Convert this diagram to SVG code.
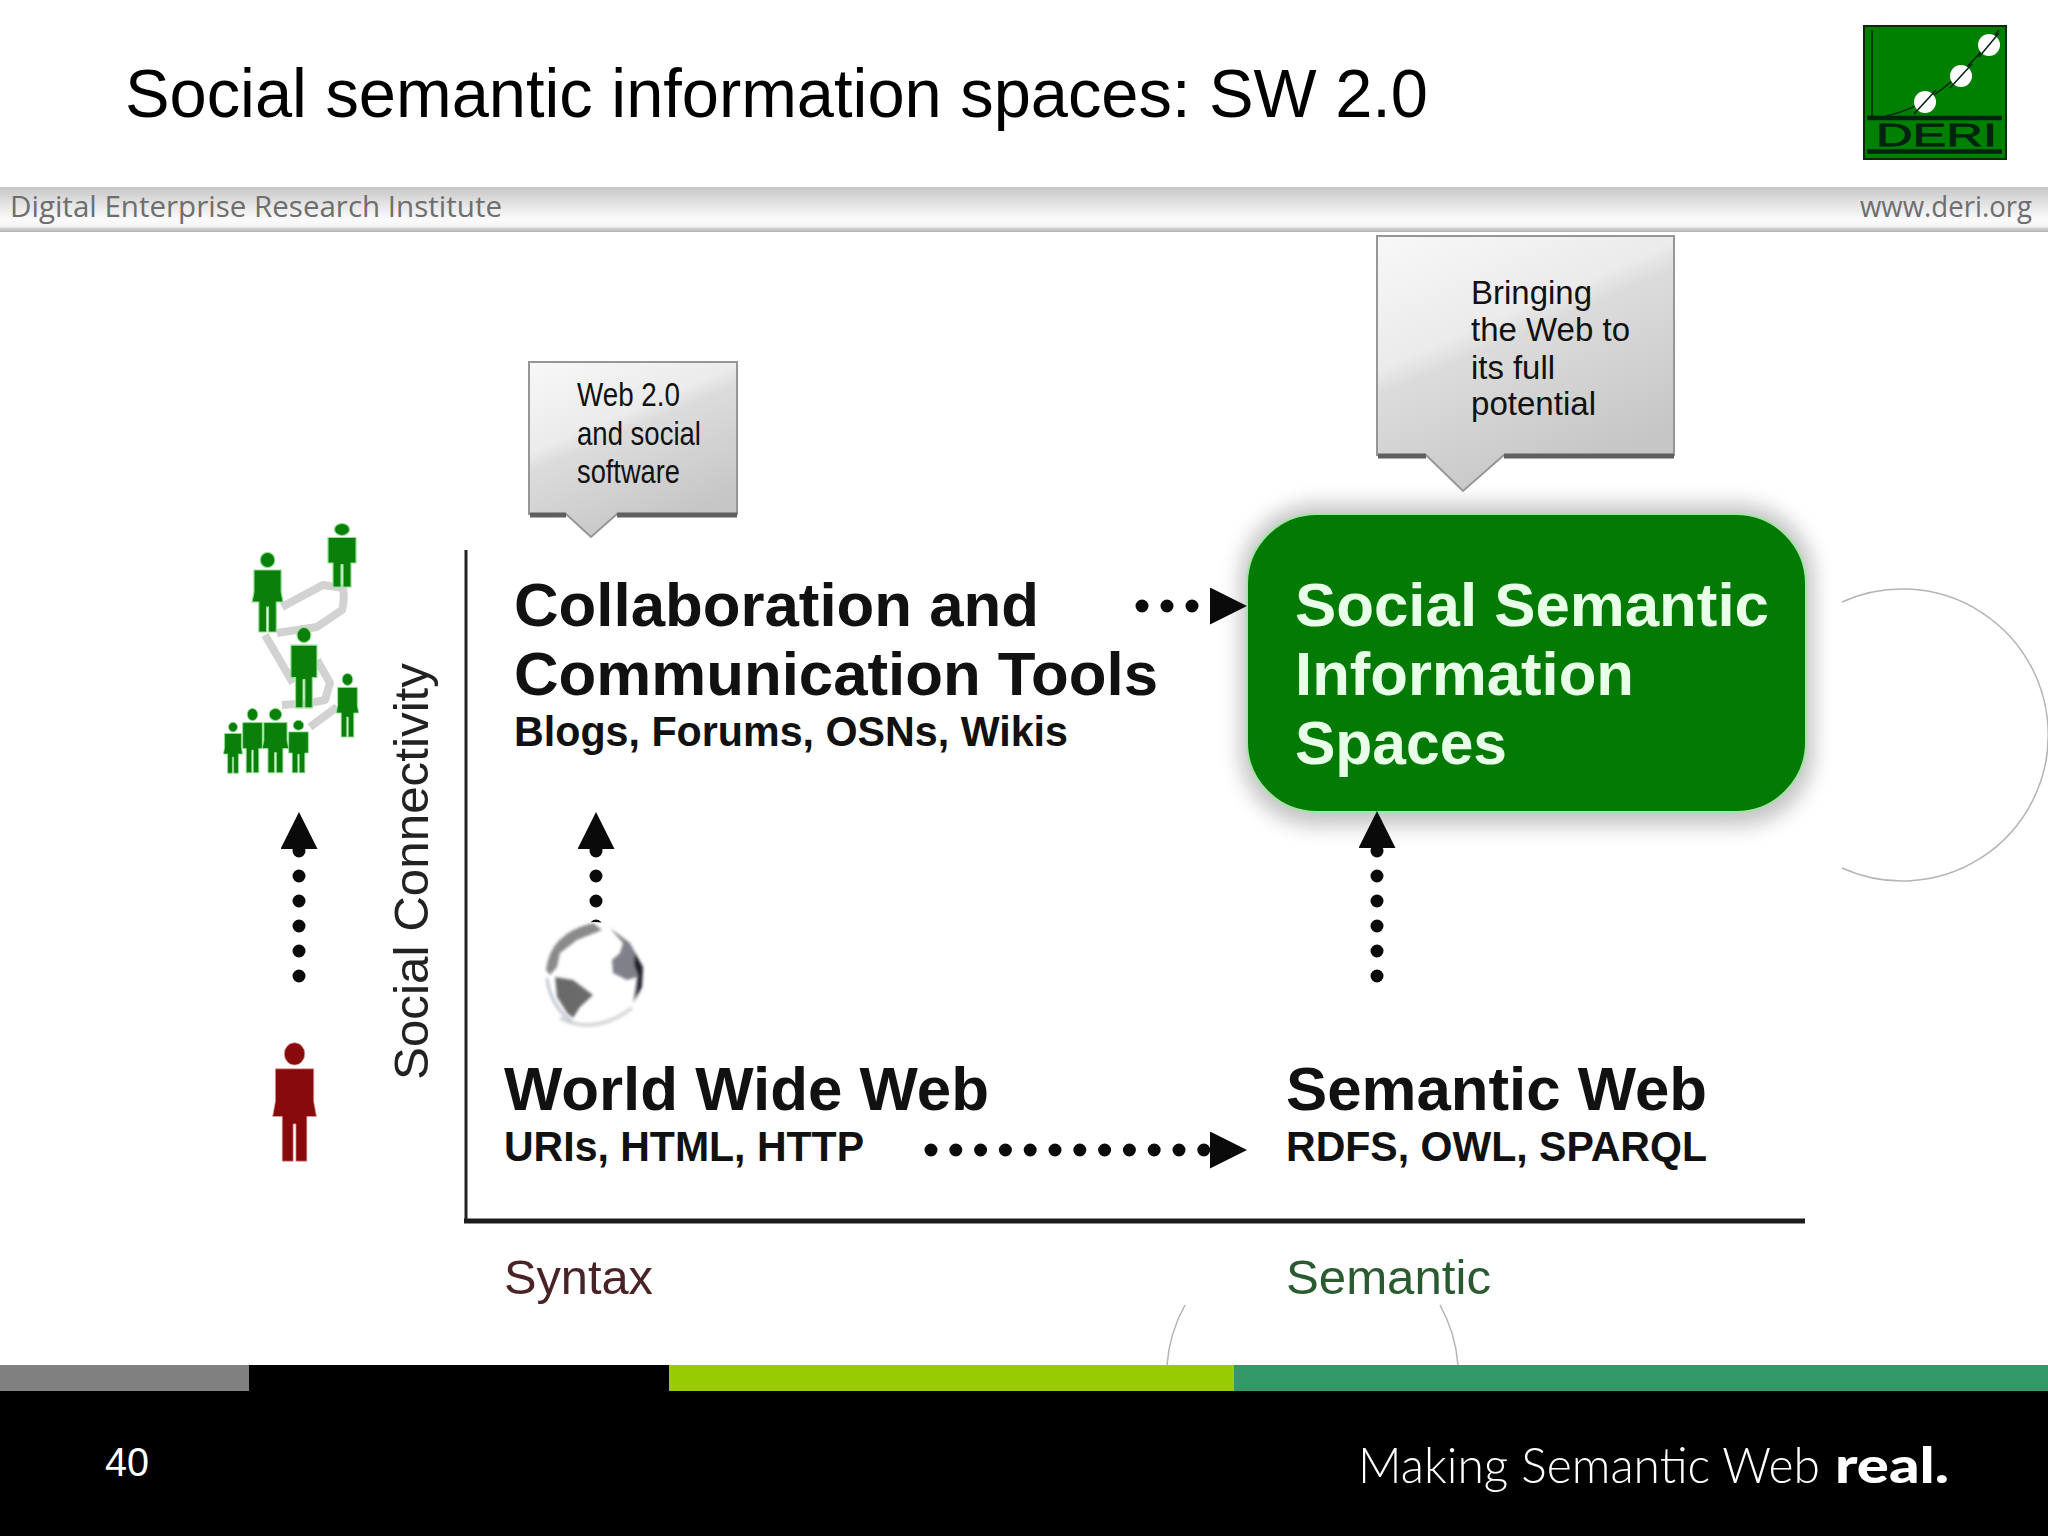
<svg xmlns="http://www.w3.org/2000/svg" width="2048" height="1536" viewBox="0 0 2048 1536">
<style>
text{font-family:"Liberation Sans",Arial,sans-serif}
.b{font-weight:700;fill:#111}
.h1{font-size:62px}
.h2{font-size:42px}
.c{font-size:33px;fill:#111}
.hd{font-family:"Open Sans","Liberation Sans",sans-serif;font-size:29px;fill:#6e6e6e}
.ft{font-family:Lato,"Liberation Sans",sans-serif;font-size:50px;fill:#fff}
.g{fill:#0a7f0a;stroke:#8fe08f;stroke-width:1.2}
.lk{fill:none;stroke:#d2d2d2;stroke-width:8;stroke-linejoin:round}
.arc{fill:none;stroke:#b4b4b4;stroke-width:1.5}
.dots{fill:none;stroke:#0a0a0a;stroke-width:13;stroke-linecap:round}
.call{stroke:#969696;stroke-width:2}
.edge{fill:none;stroke:#5f5f5f;stroke-width:5}
</style>
<defs>
<linearGradient id="bar" x1="0" y1="0" x2="0" y2="1">
<stop offset="0" stop-color="#c6c6c6"/><stop offset=".3" stop-color="#dedede"/><stop offset=".72" stop-color="#fbfbfb"/><stop offset=".88" stop-color="#f4f4f4"/><stop offset=".92" stop-color="#d0d0d0"/><stop offset="1" stop-color="#b4b4b4"/>
</linearGradient>
<linearGradient id="silver" x1="0" y1="0" x2=".5" y2="1">
<stop offset="0" stop-color="#f8f8f8"/><stop offset=".42" stop-color="#ebebeb"/><stop offset=".5" stop-color="#dcdcdc"/><stop offset="1" stop-color="#c6c6c6"/>
</linearGradient>
<filter id="soft" x="-10%" y="-10%" width="120%" height="120%"><feGaussianBlur stdDeviation="10"/></filter>
<filter id="edge" x="-5%" y="-100%" width="110%" height="300%"><feGaussianBlur stdDeviation="2"/></filter>
<filter id="blur" x="-10%" y="-10%" width="120%" height="120%"><feGaussianBlur stdDeviation="1.400"/></filter>
<marker id="head" markerUnits="userSpaceOnUse" markerWidth="38" markerHeight="38" refX="0" refY="18.5" orient="auto"><path d="M0 0L37 18.500L0 37Z" fill="#0a0a0a"/></marker>
<g id="male"><circle cx="15" cy="8" r="7.500"/><path d="M1 18H29V50H24V80H16V52H14V80H6V50H1Z"/></g>
<g id="female"><circle cx="15" cy="8" r="7.500"/><path d="M1 18H29V40L31 50H24V80H16V55H14V80H6V50H-1L1 40Z"/></g>
</defs>
<rect width="2048" height="1536" fill="#fff"/>

<g id="decor-arcs">
<path class="arc" d="M1842 602A146 146 0 1 1 1842 868"/>
<path class="arc" d="M1185 1305A146 146 0 0 0 1167 1365"/>
<path class="arc" d="M1440 1305A146 146 0 0 1 1458 1365"/>
</g>

<g id="header">
<rect x="0" y="187" width="2048" height="45" fill="url(#bar)"/>
<text class="hd" x="10" y="217" textLength="492" lengthAdjust="spacingAndGlyphs">Digital Enterprise Research Institute</text>
<text class="hd" x="1860" y="217" textLength="172" lengthAdjust="spacingAndGlyphs">www.deri.org</text>
</g>

<g id="title"><text x="125" y="117" font-size="68" fill="#000" textLength="1303" lengthAdjust="spacingAndGlyphs">Social semantic information spaces: SW 2.0</text></g>

<g id="logo">
<rect x="1864" y="26" width="142" height="133" fill="#008000" stroke="#0a2a0a" stroke-width="2"/>
<path d="M1872 30V116M1886 116C1925 108 1960 80 1999 30" fill="none" stroke="#021" stroke-width="1.500"/>
<ellipse cx="1925" cy="102" rx="11" ry="11" fill="#fff"/><ellipse cx="1961" cy="76" rx="11" ry="11" fill="#fff"/><ellipse cx="1989" cy="45" rx="11" ry="11" fill="#fff"/>
<path d="M1914 114L1936 90M1950 88L1972 64M1979 57L1999 33" stroke="#021" stroke-width="1.500"/>
<path d="M1867 118H2002M1867 151.500H2002" stroke="#021" stroke-width="4.500"/>
<text x="1876" y="146" font-size="32" fill="#021" stroke="#021" stroke-width=".8" textLength="121" lengthAdjust="spacingAndGlyphs">DERI</text>
</g>

<g id="axes">
<path d="M466 550V1222" stroke="#222" stroke-width="3" fill="none"/>
<path d="M464 1221H1805" stroke="#1c1c1c" stroke-width="5" fill="none"/>
<text transform="translate(428 1080) rotate(-90)" font-size="49" fill="#222" textLength="417" lengthAdjust="spacingAndGlyphs">Social Connectivity</text>
<text x="504" y="1294" font-size="48" fill="#4a2326" textLength="149" lengthAdjust="spacingAndGlyphs">Syntax</text>
<text x="1286" y="1294" font-size="48" fill="#2a5a30" textLength="205" lengthAdjust="spacingAndGlyphs">Semantic</text>
</g>

<g id="ssis">
<rect x="1240" y="504" width="574" height="322" rx="76" fill="#8a8a8a" opacity=".5" filter="url(#soft)"/>
<rect x="1247" y="514" width="559" height="298" rx="70" fill="#037a03" stroke="#a4e4a4" stroke-width="2"/>
<text x="1295" y="626" font-size="62" font-weight="700" fill="#e8ffe8" textLength="474" lengthAdjust="spacingAndGlyphs">Social Semantic</text>
<text x="1295" y="695" font-size="62" font-weight="700" fill="#e8ffe8" textLength="339" lengthAdjust="spacingAndGlyphs">Information</text>
<text x="1295" y="764" font-size="62" font-weight="700" fill="#e8ffe8" textLength="212" lengthAdjust="spacingAndGlyphs">Spaces</text>
</g>

<g id="connectors">
<path class="dots" stroke-dasharray="0 25" d="M299 976V849" marker-end="url(#head)"/>
<path class="dots" stroke-dasharray="0 25" d="M596 926V849" marker-end="url(#head)"/>
<path class="dots" stroke-dasharray="0 25" d="M1377 976V848" marker-end="url(#head)"/>
<path class="dots" stroke-dasharray="0 25" d="M1142 606H1210" marker-end="url(#head)"/>
<path class="dots" stroke-dasharray="0 24.800" d="M931 1150H1210" marker-end="url(#head)"/>
</g>

<g id="people-network">
<path class="lk" d="M282 607L323 585L343 588Q345 600 342 610L317 627L277 633"/>
<path class="lk" d="M265 635L293 683M317 660L330 683L325 700L310 703L282 705"/>
<path class="lk" d="M337 707L310 727"/>
<g class="g">
<use href="#female" transform="translate(253 552) scale(.97 1)"/>
<use href="#male" transform="translate(327 523) scale(1 .8)"/>
<use href="#male" transform="translate(290 627) scale(.93 1.01)"/>
<use href="#female" transform="translate(337 673) scale(.7 .8)"/>
<use href="#female" transform="translate(224 722) scale(.6 .64)"/>
<use href="#male" transform="translate(242 708) scale(.7 .81)"/>
<use href="#female" transform="translate(263 708) scale(.83 .81)"/>
<use href="#male" transform="translate(288 720) scale(.7 .66)"/>
</g>
</g>

<g id="person-red"><use href="#female" transform="translate(274 1042) scale(1.37 1.49)" fill="#880a0c" stroke="#e0a0a0" stroke-width=".5"/></g>

<g id="globe">
<ellipse cx="594" cy="975" rx="50" ry="53" fill="#fff"/>
<g filter="url(#blur)">
<path d="M560 1018Q594 1036 632 1008" fill="none" stroke="#d8d8d8" stroke-width="4"/>
<path d="M546 970Q550 933 593 923L602 930L577 940L560 953L557 967L550 975Z" fill="#8a8a8a"/>
<path d="M610 928L630 943L643 967L641 990L633 1003L637 977L627 980L613 973L612 960L620 953L623 943Z" fill="#80808a"/>
<path d="M635 953L643 967L642 987L636 997L638 975L634 965Z" fill="#22222c"/>
<path d="M555 977L573 980L593 995L580 1007L573 1018L567 1013L557 997Z" fill="#6b6b6b"/>
<path d="M547 978Q550 1005 572 1022" fill="none" stroke="#c0c8d0" stroke-width="3"/>
</g>
</g>

<g id="callout-web20">
<path class="edge" filter="url(#edge)" d="M531 517H566M617 517H737"/>
<path class="call" fill="url(#silver)" d="M529 362H737V514H617L591 537L566 514H529Z"/>
<path class="edge" d="M530 515H566M617 515H737"/>
<text class="c" x="577" y="406" textLength="103" lengthAdjust="spacingAndGlyphs">Web 2.0</text>
<text class="c" x="577" y="445" textLength="124" lengthAdjust="spacingAndGlyphs">and social</text>
<text class="c" x="577" y="483" textLength="103" lengthAdjust="spacingAndGlyphs">software</text>
</g>

<g id="callout-bringing">
<path class="edge" filter="url(#edge)" d="M1379 458H1426M1504 458H1674"/>
<path class="call" fill="url(#silver)" d="M1377 236H1674V455H1504L1463 491L1426 455H1377Z"/>
<path class="edge" d="M1378 456H1426M1504 456H1674"/>
<text class="c" x="1471" y="304" textLength="121" lengthAdjust="spacingAndGlyphs">Bringing</text>
<text class="c" x="1471" y="341" textLength="159" lengthAdjust="spacingAndGlyphs">the Web to</text>
<text class="c" x="1471" y="379" textLength="84" lengthAdjust="spacingAndGlyphs">its full</text>
<text class="c" x="1471" y="415" textLength="125" lengthAdjust="spacingAndGlyphs">potential</text>
</g>

<g id="collab">
<text class="b h1" x="514" y="626" textLength="525" lengthAdjust="spacingAndGlyphs">Collaboration and</text>
<text class="b h1" x="514" y="695" textLength="644" lengthAdjust="spacingAndGlyphs">Communication Tools</text>
<text class="b h2" x="514" y="746" textLength="554" lengthAdjust="spacingAndGlyphs">Blogs, Forums, OSNs, Wikis</text>
</g>

<g id="www">
<text class="b h1" x="504" y="1110" textLength="485" lengthAdjust="spacingAndGlyphs">World Wide Web</text>
<text class="b h2" x="504" y="1161" textLength="360" lengthAdjust="spacingAndGlyphs">URIs, HTML, HTTP</text>
</g>

<g id="semweb">
<text class="b h1" x="1286" y="1110" textLength="421" lengthAdjust="spacingAndGlyphs">Semantic Web</text>
<text class="b h2" x="1286" y="1161" textLength="421" lengthAdjust="spacingAndGlyphs">RDFS, OWL, SPARQL</text>
</g>

<g id="footer">
<rect x="0" y="1365" width="2048" height="171" fill="#000"/>
<rect x="0" y="1365" width="249" height="26" fill="#808080"/>
<rect x="669" y="1365" width="565" height="26" fill="#99cc00"/>
<rect x="1234" y="1365" width="814" height="26" fill="#339966"/>
<text x="105" y="1476" font-size="40" fill="#fff" textLength="44" lengthAdjust="spacingAndGlyphs">40</text>
<text class="ft" x="1358" y="1483" font-weight="300" textLength="462" lengthAdjust="spacingAndGlyphs">Making Semantic Web</text>
<text class="ft" x="1835" y="1483" font-weight="900" textLength="114" lengthAdjust="spacingAndGlyphs">real.</text>
</g>
</svg>
